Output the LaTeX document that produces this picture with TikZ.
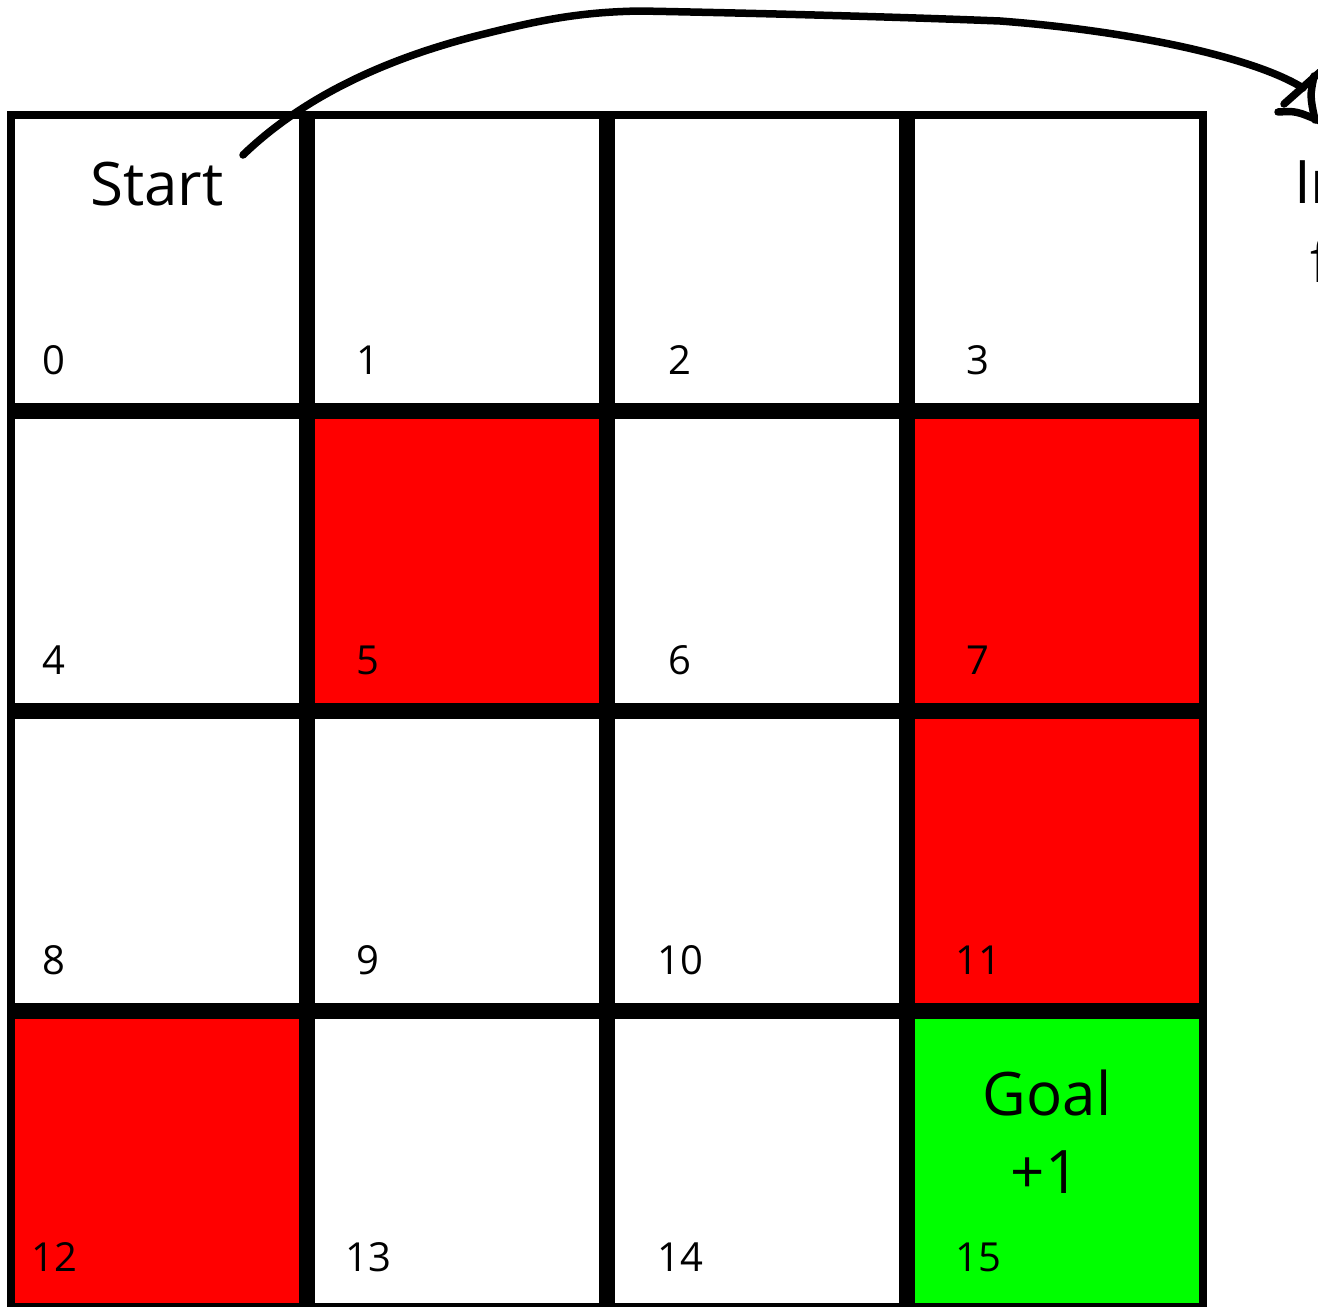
\documentclass[tikz,border=0pt]{standalone}
\usepackage{fontspec}
\setmainfont{Open Sans}
\begin{document}
\begin{tikzpicture}[x=1pt,y=-1pt,
  num/.style={anchor=base,inner sep=0pt,font=\fontsize{40}{48}\selectfont},
  big/.style={anchor=base,inner sep=0pt,font=\fontsize{60}{72}\selectfont},
  inner/.style={line width=16pt,black},
  outer/.style={line width=8pt,black},
  hand/.style={line width=7.5pt,line cap=round,line join=round}]
\useasboundingbox (0,0) rectangle (1318,1307);
\clip (0,0) rectangle (1318,1307);
% coloured cells
\fill[red] (307,411) rectangle (607,711);
\fill[red] (907,411) rectangle (1203,711);
\fill[red] (907,711) rectangle (1203,1011);
\fill[red] (11,1011) rectangle (307,1307);
\fill[green] (907,1011) rectangle (1203,1307);
% grid lines
\foreach \x in {307,607,907} \draw[inner] (\x,115) -- (\x,1307);
\foreach \y in {411,711,1011} \draw[inner] (11,\y) -- (1203,\y);
\draw[outer] (11,115) rectangle (1203,1307);
% numbers
\node[num] (n0) at (54,374) {0};
\node[num] (n1) at (368,374) {1};
\node[num] (n2) at (680,374) {2};
\node[num] (n3) at (978,374) {3};
\node[num] (n4) at (54,674) {4};
\node[num] (n5) at (368,674) {5};
\node[num] (n6) at (680,674) {6};
\node[num] (n7) at (978,674) {7};
\node[num] (n8) at (54,974) {8};
\node[num] (n9) at (368,974) {9};
\node[num] (n10) at (680,974) {10};
\node[num] (n11) at (978,974) {11};
\node[num] (n12) at (54,1271) {12};
\node[num] (n13) at (368,1271) {13};
\node[num] (n14) at (680,1271) {14};
\node[num] (n15) at (978,1271) {15};
% big labels
\node[big] (start) at (157,205) {Start};
\node[big] (goal) at (1047,1115) {Goal};
\node[big] (plusone) at (1045,1193) {+1};
\node[big,anchor=base west] (side1) at (1294,203) {In};
\node[big,anchor=base west] (side2) at (1310,282) {f};
% hand-drawn arrow
\coordinate (arrowstart) at (243,155);
\coordinate (arrowend) at (1303,88);
\draw[hand] (arrowstart) .. controls (300,100) and (380,60) .. (480,35)
  .. controls (540,20) and (580,12) .. (640,11)
  .. controls (750,13) and (900,17) .. (1000,21)
  .. controls (1120,30) and (1250,55) .. (arrowend);
\coordinate (h1a) at (1284,104);
\coordinate (h1b) at (1320,72);
\coordinate (h2a) at (1278,112);
\coordinate (h2b) at (1320,121);
\coordinate (h3a) at (1314,76);
\coordinate (h3b) at (1315,120);
\draw[hand] (h1a) -- (h1b);
\draw[hand] (h2a) .. controls (1296,111) .. (h2b);
\draw[hand] (h3a) .. controls (1310,96) .. (h3b);
\end{tikzpicture}
\end{document}
